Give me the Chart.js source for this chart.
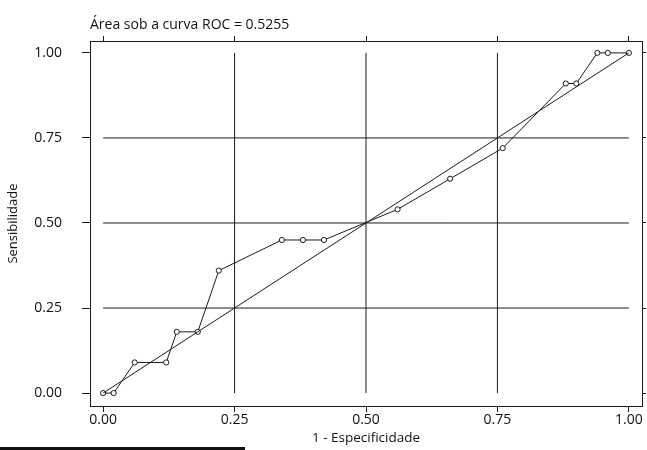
<!DOCTYPE html>
<html>
<head>
<meta charset="utf-8">
<script src="https://cdn.jsdelivr.net/npm/chart.js@4"></script>
<style>
  html, body { margin: 0; padding: 0; background: #fff; }
  #wrap { position: relative; width: 647px; height: 450px; }
  #bar { position: absolute; left: 0; top: 447px; width: 245px; height: 3px; background: #111; }
</style>
</head>
<body>
<div id="wrap">
  <canvas id="c" width="647" height="450"></canvas>
  <div id="bar"></div>
</div>
<script>
// ROC curve points (1 - specificity, sensitivity)
const fpr = [0.00, 0.02, 0.06, 0.12, 0.14, 0.18, 0.22, 0.34, 0.38, 0.42, 0.56, 0.66, 0.76, 0.88, 0.90, 0.94, 0.96, 1.00];
const tpr = [0.00, 0.00, 0.09, 0.09, 0.18, 0.18, 0.36, 0.45, 0.45, 0.45, 0.54, 0.63, 0.72, 0.91, 0.91, 1.00, 1.00, 1.00];
// reference (chance) line
const refX = [0, 1];
const refY = [0, 1];
// axis ticks and reference grid
const tickValues = [0, 0.25, 0.5, 0.75, 1];
const gridValues = [0.25, 0.5, 0.75];
const titleText = 'Área sob a curva ROC = 0.5255';
const xTitle = '1 - Especificidade';
const yTitle = 'Sensibilidade';

const ink = '#1a1a1a';
const FONT = "'Open Sans', 'DejaVu Sans', sans-serif";

const gridDatasets = [];
gridValues.forEach(v => {
  gridDatasets.push({ data: [{x: v, y: 0}, {x: v, y: 1}], showLine: true, pointRadius: 0, borderColor: ink, borderWidth: 1 });
  gridDatasets.push({ data: [{x: 0, y: v}, {x: 1, y: v}], showLine: true, pointRadius: 0, borderColor: ink, borderWidth: 1 });
});

const setTicks = s => { s.ticks = tickValues.map(v => ({ value: v })); };

const XMIN = -0.025, XMAX = 1.025, YMIN = -0.038, YMAX = 1.035;

new Chart(document.getElementById('c'), {
  type: 'scatter',
  data: {
    datasets: [
      ...gridDatasets,
      { data: refX.map((x, i) => ({ x, y: refY[i] })), showLine: true, pointRadius: 0, borderColor: ink, borderWidth: 1 },
      { data: fpr.map((x, i) => ({ x, y: tpr[i] })), showLine: true, borderColor: ink, borderWidth: 1,
        pointRadius: 2.6, pointBorderWidth: 1, pointBackgroundColor: '#fff', pointBorderColor: ink }
    ]
  },
  options: {
    responsive: false,
    animation: false,
    layout: { padding: 0 },
    plugins: { legend: { display: false }, tooltip: { enabled: false } },
    scales: {
      x: {
        type: 'linear', position: 'bottom', min: XMIN, max: XMAX,
        afterBuildTicks: setTicks,
        afterFit: s => { s.height = 44; },
        grid: { drawOnChartArea: false, drawTicks: true, tickLength: 6, color: ink },
        border: { display: true, color: ink, width: 1 },
        ticks: { color: '#111', font: { family: FONT, size: 14 }, padding: 0, maxRotation: 0,
                 callback: v => v.toFixed(2) },
        title: { display: true, text: xTitle, color: '#111', font: { family: FONT, size: 13.5 }, padding: { top: 0, bottom: 4 } }
      },
      x2: {
        type: 'linear', position: 'top', min: XMIN, max: XMAX,
        afterBuildTicks: setTicks,
        afterFit: s => { s.height = 41; },
        grid: { drawOnChartArea: false, drawTicks: true, tickLength: 5, color: ink },
        border: { display: true, color: ink, width: 1 },
        ticks: { display: false },
        title: { display: true, text: titleText, align: 'start', color: '#111', font: { family: FONT, size: 14 }, padding: { top: 17, bottom: 0 } }
      },
      y: {
        type: 'linear', position: 'left', min: YMIN, max: YMAX,
        afterBuildTicks: setTicks,
        afterFit: s => { s.width = 90; },
        grid: { drawOnChartArea: false, drawTicks: true, tickLength: 8, color: ink },
        border: { display: true, color: ink, width: 1 },
        ticks: { color: '#111', font: { family: FONT, size: 14 }, padding: 20, callback: v => v.toFixed(2) },
        title: { display: true, text: yTitle, color: '#111', font: { family: FONT, size: 13 }, padding: { top: 5, bottom: 0 } }
      },
      y2: {
        type: 'linear', position: 'right', min: YMIN, max: YMAX,
        afterBuildTicks: setTicks,
        afterFit: s => { s.width = 4; },
        grid: { drawOnChartArea: false, drawTicks: true, tickLength: 4, color: ink },
        border: { display: true, color: ink, width: 1 },
        ticks: { display: false }
      }
    }
  }
});
</script>
</body>
</html>
